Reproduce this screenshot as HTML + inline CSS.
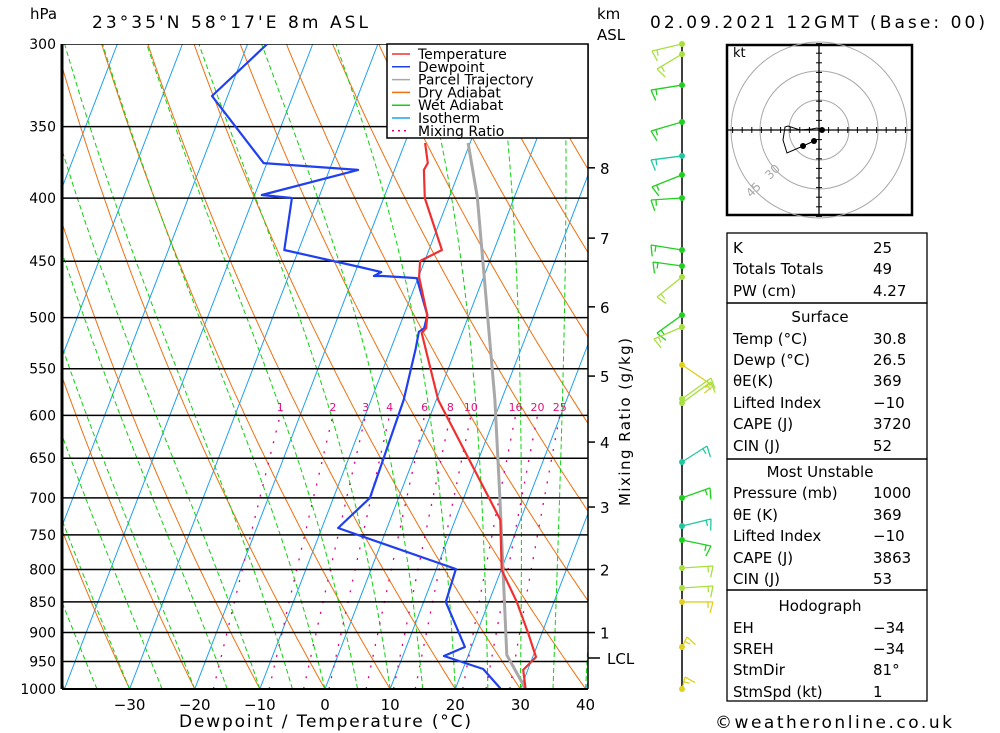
<!DOCTYPE html>
<html><head><meta charset="utf-8"><style>
body{margin:0;background:#fff;}
svg{display:block;font-family:"DejaVu Sans","Liberation Sans",sans-serif;}
</style></head><body>
<svg id="chart" width="1000" height="733" viewBox="0 0 1000 733" xmlns="http://www.w3.org/2000/svg">
<defs><clipPath id="plotclip"><rect x="62" y="44" width="526" height="645"/></clipPath></defs>
<g id="bg" clip-path="url(#plotclip)"></g>
<g id="fg"></g>
</svg>
<script>
// ---- data ----
const pressureLevels=[300,350,400,450,500,550,600,650,700,750,800,850,900,950,1000];
const tempTicks=[-30,-20,-10,0,10,20,30,40];
const isotherms=[-120,-110,-100,-90,-80,-70,-60,-50,-40,-30,-20,-10,0,10,20,30,40];
const dryAdiabats=[-60,-50,-40,-30,-20,-10,0,10,20,30,40,50,60,70,80,90,100,110,120,130,140,150,160];
const wetAdiabats=[-40,-35,-30,-25,-20,-15,-10,-5,0,5,10,15,20,25,30,35,40];
const mixingRatios=[1,2,3,4,6,8,10,16,20,25];
const tempP=[1000,965,942,901,850,801,729,583,514.5,509.8,497.6,463.5,449.8,440.7,399.9,379.5,374.7,360.9];
const tempT=[30.8,29.3,30.5,27.9,24.3,20.1,16.9,0.3,-6.2,-5.8,-6.4,-9.9,-10.7,-8.0,-13.7,-15.5,-15.3,-16.9];
const dewP=[1000,963.4,940.2,924.6,850,799.3,740.4,700,583,529.3,513.5,509.8,497.6,464.4,462.6,462.6,459.2,454.9,440.7,399.9,397.7,379.5,374.7,330.6,300];
const dewT=[27.0,23.1,16.3,19.0,13.4,13.0,-7.5,-4.4,-5.0,-6.2,-6.7,-6.1,-6.4,-10.2,-15.5,-16.9,-16.0,-19.6,-32.2,-34.1,-38.9,-25.6,-40.5,-52.4,-47.0];
const parcelP=[1000,987,938.5,796.3,702.7,583,499.5,399.2,360.9];
const parcelT=[30.7,29.8,25.9,20.1,15.7,9.0,3.0,-5.7,-10.3];
const kmLabels=["1","2","3","4","5","6","7","8"];
const kmPressure=[900,800,712,630.7,557.6,490,431,378];
const barbP=[300,305.7,323.9,347,369.7,383,399.9,440.7,454,463.5,497.6,508.8,546,582,586.3,654.6,700,737.6,757.2,797.8,828.2,850,924.6,1000];
const barbDx=[-30,-25,-31,-31,-31,-30,-31,-31,-29,-25,-25,-28,31,29,29,25,28,29,29,31,31,31,5,3];
const barbDy=[7,15,5,9,4,12,2,-5,-4,20,18,12,21,-21,-21,-16,-10,-7,6,-2,-2,0,-10,-12];
const barbColor=["#a8e040","#a8e040","#20d020","#20d020","#20c8a0","#20d020","#20d020","#20d020","#20d020","#a8e040","#20d020","#a8e040","#e0d020","#a8e040","#a8e040","#20c8a0","#20d020","#20c8a0","#20d020","#a8e040","#a8e040","#e0d020","#e0d020","#e0d020"];

// ---- axes ----
const Y0=689,YH=645,LN=Math.log(1000/300);
function yP(p){return Y0-Math.log(1000/p)/LN*YH;}
function xT(T,p){return 325+T*6.514+0.385*(Y0-yP(p));}
const NS="http://www.w3.org/2000/svg";
const bg=document.getElementById('bg'),fg=document.getElementById('fg');
function el(tag,attrs,parent){const e=document.createElementNS(NS,tag);for(const k in attrs)e.setAttribute(k,attrs[k]);(parent||fg).appendChild(e);return e;}
function txt(s,x,y,size,attrs,parent){const t=el('text',Object.assign({x:x,y:y,'font-size':size,fill:'#000'},attrs||{}),parent);t.textContent=s;return t;}
function pathFrom(pts){return pts.map((q,i)=>(i?'L':'M')+q[0].toFixed(1)+' '+q[1].toFixed(1)).join(' ');}

// isotherms
isotherms.forEach(T=>{const l=el('line',{x1:xT(T,1000),y1:yP(1000),x2:xT(T,300),y2:yP(300),stroke:'#1ea0f0','stroke-width':1},bg);
});
// dry adiabats
dryAdiabats.forEach(th=>{const pts=[];for(let p=1000;p>=300;p-=10){const T=(th+273.15)*Math.pow(p/1000,0.2857)-273.15;pts.push([xT(T,p),yP(p)]);}
const e=el('path',{d:pathFrom(pts),fill:'none',stroke:'#f07010','stroke-width':1},bg);
});
// wet adiabats
function es(T){return 6.112*Math.exp(17.67*T/(T+243.5));}
wetAdiabats.forEach(T0=>{let T=T0+273.15;const pts=[[xT(T0,1000),yP(1000)]];
for(let p=1000;p>300;p-=2){const tc=T-273.15;const rs=0.622*es(tc)/(p-es(tc));const Lv=2.501e6,Rd=287,cp=1004;
const dTdp=(Rd*T+Lv*rs)/(p*(cp+Lv*Lv*rs*0.622/(Rd*T*T)));T-=dTdp*2;pts.push([xT(T-273.15,p-2),yP(p-2)]);}
const e=el('path',{d:pathFrom(pts),fill:'none',stroke:'#10d010','stroke-width':1,'stroke-dasharray':'5 3'},bg);
});
// mixing ratio
function tdFromW(w,p){const e=w*p/(622+w);const a=Math.log(e/6.112);return 243.5*a/(17.67-a);}
mixingRatios.forEach(w=>{const pts=[];for(let p=1000;p>=600;p-=10)pts.push([xT(tdFromW(w,p),p),yP(p)]);
const e=el('path',{d:pathFrom(pts),fill:'none',stroke:'#e0007f','stroke-width':1.3,'stroke-dasharray':'2 9'},bg);

const t=txt(String(w),xT(tdFromW(w,600),600),411,11,{fill:'#e0107f','text-anchor':'middle'},bg);
});
// pressure lines
pressureLevels.forEach(p=>{const l=el('line',{x1:62,y1:yP(p),x2:588,y2:yP(p),stroke:'#000','stroke-width':1.5},bg);

const t=txt(String(p),56,yP(p)+5,14,{'text-anchor':'end'});});
// profiles
function profile(P,T,color,w,name){const pts=P.map((p,i)=>[xT(T[i],p),yP(p)]);
const e=el('path',{d:pathFrom(pts),fill:'none',stroke:color,'stroke-width':w,'stroke-linejoin':'round'},bg);
}
profile(parcelP,parcelT,'#a8a8a8',3,'parcel-trajectory');
profile(dewP,dewT,'#2040f0',2.2,'dewpoint-line');
profile(tempP,tempT,'#f03030',2.2,'temperature-line');

// frame
el('line',{x1:62,y1:44,x2:62,y2:689,stroke:'#000','stroke-width':3});
el('line',{x1:62,y1:689,x2:588,y2:689,stroke:'#000','stroke-width':2});
el('line',{x1:588,y1:44,x2:588,y2:689,stroke:'#000','stroke-width':1.5});
// x ticks
tempTicks.forEach(T=>{const t=txt(String(T).replace('-','−'),xT(T,1000),710,15,{'text-anchor':'middle'});
});
// km labels
kmLabels.forEach((k,i)=>{const y=yP(kmPressure[i]);el('line',{x1:588,y1:y,x2:595,y2:y,stroke:'#000','stroke-width':1.5});
const t=txt(k,600,y+6,15);});
el('line',{x1:588,y1:658,x2:600,y2:658,stroke:'#000','stroke-width':1.5});
txt('LCL',607,664,15,{});

// legend
const lg=el('g',{});
el('rect',{x:387,y:44,width:201,height:94,fill:'#fff',stroke:'#000','stroke-width':1.5},lg);
const legItems=[['Temperature','#f03030',''],['Dewpoint','#2040f0',''],['Parcel Trajectory','#a8a8a8',''],['Dry Adiabat','#f07010',''],['Wet Adiabat','#10d010',''],['Isotherm','#1ea0f0',''],['Mixing Ratio','#e0007f','2 4']];
legItems.forEach((it,i)=>{const y=54+i*12.8;const l=el('line',{x1:392,y1:y,x2:410,y2:y,stroke:it[1],'stroke-width':1.5,'stroke-dasharray':it[2]},lg);

const t=txt(it[0],418,y+5,14,{},lg);});

// titles
txt('hPa',30,19,15,{});
txt("23°35'N  58°17'E  8m  ASL",92,28,17,{textLength:276,});
txt('km',597,19,15,{});
txt('ASL',597,40,15,{});
txt('02.09.2021  12GMT  (Base: 00)',650,28,17,{textLength:335,});
txt('Dewpoint / Temperature (°C)',325,727,17,{'text-anchor':'middle',textLength:292,});
txt('Mixing Ratio (g/kg)',0,0,15,{transform:'translate(630,422) rotate(-90)','text-anchor':'middle',textLength:168,});
txt('©weatheronline.co.uk',715,728,17,{textLength:237,});

// wind barbs
el('line',{x1:682,y1:44,x2:682,y2:689,stroke:'#000','stroke-width':1.5,});
barbP.forEach((p,i)=>{const y=yP(p),c=barbColor[i],ex=682+barbDx[i],ey=y+barbDy[i];const g=el('g',{});

el('line',{x1:682,y1:y,x2:ex,y2:ey,stroke:c,'stroke-width':1.3},g);
const len=Math.hypot(barbDx[i],barbDy[i])||1,ux=barbDx[i]/len,uy=barbDy[i]/len;
const s=barbDx[i]<0?1:-1;const nx=uy*s,ny=-ux*s;
el('line',{x1:ex,y1:ey,x2:ex+nx*11-ux*3,y2:ey+ny*11-uy*3,stroke:c,'stroke-width':1.3},g);
el('line',{x1:ex-ux*5,y1:ey-uy*5,x2:ex-ux*5+nx*6,y2:ey-uy*5+ny*6,stroke:c,'stroke-width':1.3},g);
el('circle',{cx:682,cy:y,r:3,fill:c},g);});

// hodograph
const hg=el('g',{});
el('rect',{x:727,y:45,width:185,height:170,fill:'#fff',stroke:'#000','stroke-width':2.5},hg);
[30,59,88].forEach(r=>el('circle',{cx:819,cy:130,r:r,fill:'none',stroke:'#a8a8a8','stroke-width':1},hg));
el('line',{x1:727,y1:130,x2:912,y2:130,stroke:'#000','stroke-width':1.3},hg);
el('line',{x1:819,y1:45,x2:819,y2:215,stroke:'#000','stroke-width':1.3},hg);
for(let k=-9;k<=9;k++){if(!k)continue;el('line',{x1:819+k*9.6,y1:127,x2:819+k*9.6,y2:133,stroke:'#000'},hg);el('line',{x1:816,y1:130+k*9.6,x2:822,y2:130+k*9.6,stroke:'#000'},hg);}
txt('kt',733,57,13,{},hg);
txt('30',0,0,12,{fill:'#a8a8a8',transform:'translate(770,180) rotate(-45)'},hg);
txt('45',0,0,12,{fill:'#a8a8a8',transform:'translate(751,198) rotate(-45)'},hg);
el('path',{d:'M822 130 L817 128 L812 129 L800 130 L797 129 L788 126 L785 127 L783 140 L787 153 L803 146 L814 141',fill:'none',stroke:'#000','stroke-width':1},hg);
[[822,130],[814,141],[803,146]].forEach(q=>el('circle',{cx:q[0],cy:q[1],r:3,fill:'#000'},hg));

// table
const tb=el('g',{});
[[233,303],[303,459],[459,590],[590,701]].forEach(b=>el('rect',{x:727,y:b[0],width:200,height:b[1]-b[0],fill:'none',stroke:'#000','stroke-width':1.3},tb));
const rows=[[253,'K','25'],[274,'Totals Totals','49'],[296,'PW (cm)','4.27'],[322,'Surface',null],[344,'Temp (°C)','30.8'],[365,'Dewp (°C)','26.5'],[386,'θE(K)','369'],[408,'Lifted Index','−10'],[429,'CAPE (J)','3720'],[451,'CIN (J)','52'],[477,'Most Unstable',null],[498,'Pressure (mb)','1000'],[520,'θE (K)','369'],[541,'Lifted Index','−10'],[563,'CAPE (J)','3863'],[584,'CIN (J)','53'],[611,'Hodograph',null],[633,'EH','−34'],[654,'SREH','−34'],[675,'StmDir','81°'],[697,'StmSpd (kt)','1']];
rows.forEach(r=>{if(r[2]===null){const t=txt(r[1],820,r[0],15,{'text-anchor':'middle'},tb);}
else{const a=txt(r[1],733,r[0],15,{},tb);
const b=txt(r[2],873,r[0],15,{},tb);}});
</script>
</body></html>
